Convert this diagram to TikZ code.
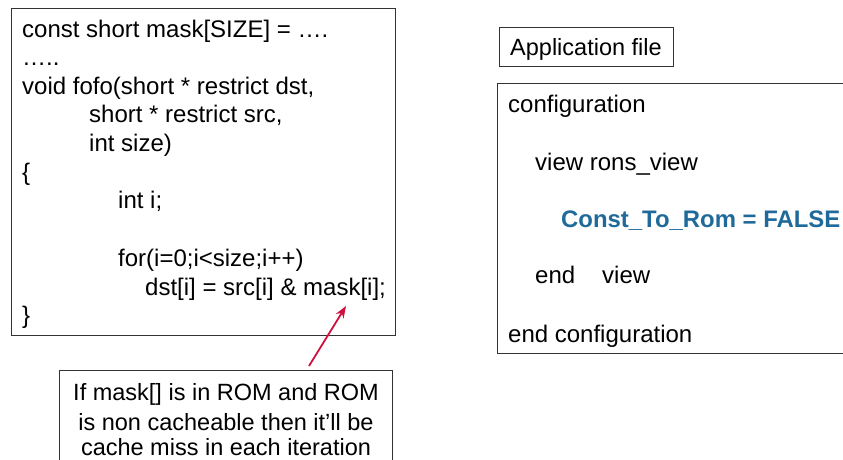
\documentclass[tikz,border=0pt]{standalone}
\usepackage{fontspec}
\setmainfont{Liberation Sans}
\usetikzlibrary{positioning,arrows.meta}
\definecolor{romblue}{HTML}{1F6A9A}
\definecolor{arrowred}{HTML}{D0103F}

\begin{document}
\begin{tikzpicture}[x=1pt,y=-1pt,
  txt/.style={anchor=base west,inner sep=0pt,font=\fontsize{24}{28}\selectfont},
  ctxt/.style={anchor=base,inner sep=0pt,font=\fontsize{23.5}{28}\selectfont},
  box/.style={draw=black!80,line width=0.9pt,inner sep=0pt,anchor=north west}]
\useasboundingbox (0,0) rectangle (843,459);
\clip (0,0) rectangle (843,459);

% code box
\node[box,minimum width=384pt,minimum height=327pt] (codebox) at (11,8) {};
\node[txt] (l1) at (22,37) {const short mask[SIZE] = ….};
\node[txt] (l2) at (22,65) {…..};
\node[txt] (l3) at (22,94) {void fofo(short * restrict dst,};
\node[txt] (l4) at (89,122) {short * restrict src,};
\node[txt] (l5) at (89,151) {int size)};
\node[txt] (l6) at (22,180) {\{};
\node[txt] (l7) at (118,208) {int i;};
\node[txt] (l8) at (118,266) {for(i=0;i<size;i++)};
\node[txt] (l9) at (145,295) {dst[i] = src[i] \& mask[i];};
\node[txt] (l10) at (22,323) {\}};

% application file
\node[box,minimum width=174pt,minimum height=39pt] (appbox) at (499,27) {};
\node[txt,font=\fontsize{23.5}{28}\selectfont] (apptext) at (510,55) {Application file};

\node[box,minimum width=420pt,minimum height=270pt] (confbox) at (497,83) {};
\node[txt] (c1) at (508,112) {configuration};
\node[txt] (c2) at (535,170) {view rons\_view};
\node[txt,font=\fontsize{23.9}{28}\selectfont\bfseries,romblue] (c3) at (561,227) {Const\_To\_Rom = FALSE};
\node[txt] (c4) at (535,283) {end\hspace{27pt}view};
\node[txt] (c5) at (508,342) {end configuration};

% note
\node[box,minimum width=333pt,minimum height=120pt] (notebox) at (59,370) {};
\node[ctxt] (n1) at (226,400) {If mask[] is in ROM and ROM};
\node[ctxt] (n2) at (226,430) {is non cacheable then it’ll be};
\node[ctxt] (n3) at (226,455) {cache miss in each iteration};

\coordinate (notefoot) at (309,366);
\coordinate (notetip) at (346,306);
\draw[arrowred,line width=1.8pt,-{Stealth[length=12pt,width=9pt]}] (notefoot) -- (notetip);

\end{tikzpicture}
\end{document}
